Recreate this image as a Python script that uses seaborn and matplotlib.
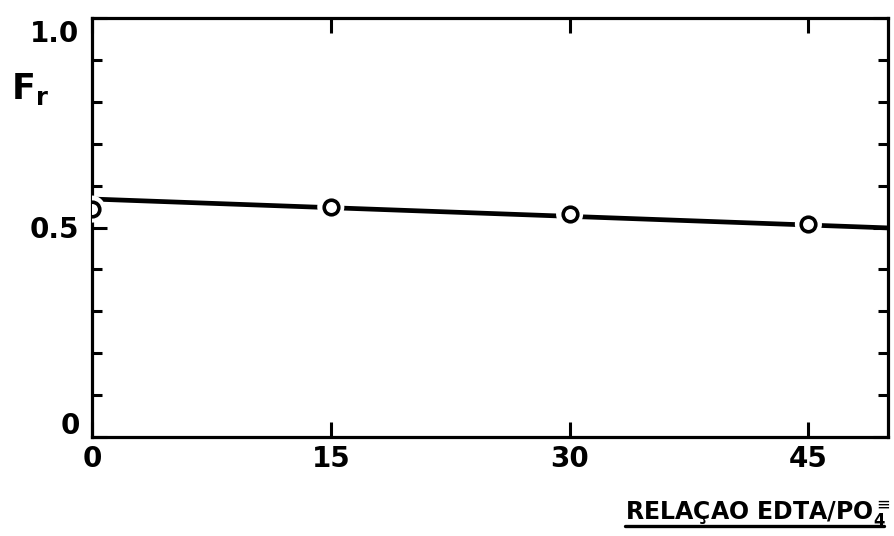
import matplotlib
matplotlib.use("Agg")
import matplotlib.pyplot as plt
import matplotlib.transforms as mtransforms
from matplotlib.lines import Line2D
from matplotlib.ticker import MultipleLocator
import seaborn as sns
import pandas as pd

# Data
ratio = [0, 15, 30, 45]                 # RELAÇAO EDTA/PO4
fr_values = [0.544, 0.549, 0.532, 0.508]  # F_r measured points
fit_ratio = [0, 50]                     # fitted line end points
fit_values = [0.568, 0.499]

x_ticks = [0, 15, 30, 45]
x_ticklabels = ["0", "15", "30", "45"]
y_ticks = [0, 0.5, 1.0]
y_ticklabels = ["0", "0.5", "1.0"]

sns.set_style("ticks")
plt.rcParams["font.family"] = ["DejaVu Sans"]
plt.rcParams["text.color"] = "black"
plt.rcParams["axes.labelcolor"] = "black"
plt.rcParams["xtick.color"] = "black"
plt.rcParams["ytick.color"] = "black"

fig = plt.figure(figsize=(8.94, 5.36), dpi=100)
ax = fig.add_axes([92 / 894, 1 - 437 / 536, (888 - 92) / 894, (437 - 18) / 536])

pts = pd.DataFrame({"x": ratio, "y": fr_values})
fit = pd.DataFrame({"x": fit_ratio, "y": fit_values})

sns.lineplot(data=fit, x="x", y="y", ax=ax, color="black", linewidth=3.4, zorder=2)
# white halo around circles (gap in line)
sns.scatterplot(data=pts, x="x", y="y", ax=ax, s=380, color="white",
                edgecolor="none", linewidth=0, zorder=3)
sns.scatterplot(data=pts, x="x", y="y", ax=ax, s=110, facecolor="white",
                edgecolor="black", linewidth=2.6, zorder=4)

ax.set_xlim(0, 50)
ax.set_ylim(0, 1.0)
ax.set_xticks(x_ticks)
ax.set_xticklabels(x_ticklabels)
ax.set_yticks(y_ticks)
ax.set_yticklabels(y_ticklabels)
ax.yaxis.set_minor_locator(MultipleLocator(0.1))

for s in ax.spines.values():
    s.set_visible(True)
    s.set_linewidth(2.3)
    s.set_color("black")

ax.tick_params(axis="both", which="major", direction="in", length=11, width=2.2,
               top=True, right=True, labelsize=20, color="black", labelcolor="black")
ax.tick_params(axis="y", which="minor", direction="in", length=7, width=2.2,
               left=True, right=True, color="black")
ax.tick_params(axis="x", which="minor", bottom=False, top=False)
ax.tick_params(axis="y", which="major", pad=9)
ax.tick_params(axis="x", which="major", pad=6)
for lab in ax.get_xticklabels() + ax.get_yticklabels():
    lab.set_fontweight("bold")

# hand-lettered offsets of the end labels on the y axis
ylabs = ax.get_yticklabels()
ylabs[0].set_transform(ylabs[0].get_transform() +
                       mtransforms.ScaledTranslation(0, 14 / 100, fig.dpi_scale_trans))
ylabs[2].set_transform(ylabs[2].get_transform() +
                       mtransforms.ScaledTranslation(0, -13 / 100, fig.dpi_scale_trans))

ax.set_ylabel(r"F$_{\mathbf{r}}$", rotation=0, fontsize=25, fontweight="bold")
ax.yaxis.set_label_coords(-0.078, 0.83)
ax.yaxis.label.set_va("center")
ax.yaxis.label.set_ha("center")

ax.set_xlabel(r"RELAÇAO EDTA/PO$_{\mathbf{4}}^{\equiv}$", fontsize=17, fontweight="bold")
ax.xaxis.set_label_coords(1.0025, -0.198)
ax.xaxis.label.set_ha("right")
ax.xaxis.label.set_va("baseline")

fig.canvas.draw()
renderer = fig.canvas.get_renderer()
bb = ax.xaxis.label.get_window_extent(renderer)
y_px = 536 - 526
fig.add_artist(Line2D([bb.x0 / 894, (bb.x1 - 6) / 894], [y_px / 536, y_px / 536],
                      transform=fig.transFigure, color="black", linewidth=2.4))

ax.set_facecolor("white")
fig.patch.set_facecolor("white")
fig.savefig("out.png", dpi=100)
